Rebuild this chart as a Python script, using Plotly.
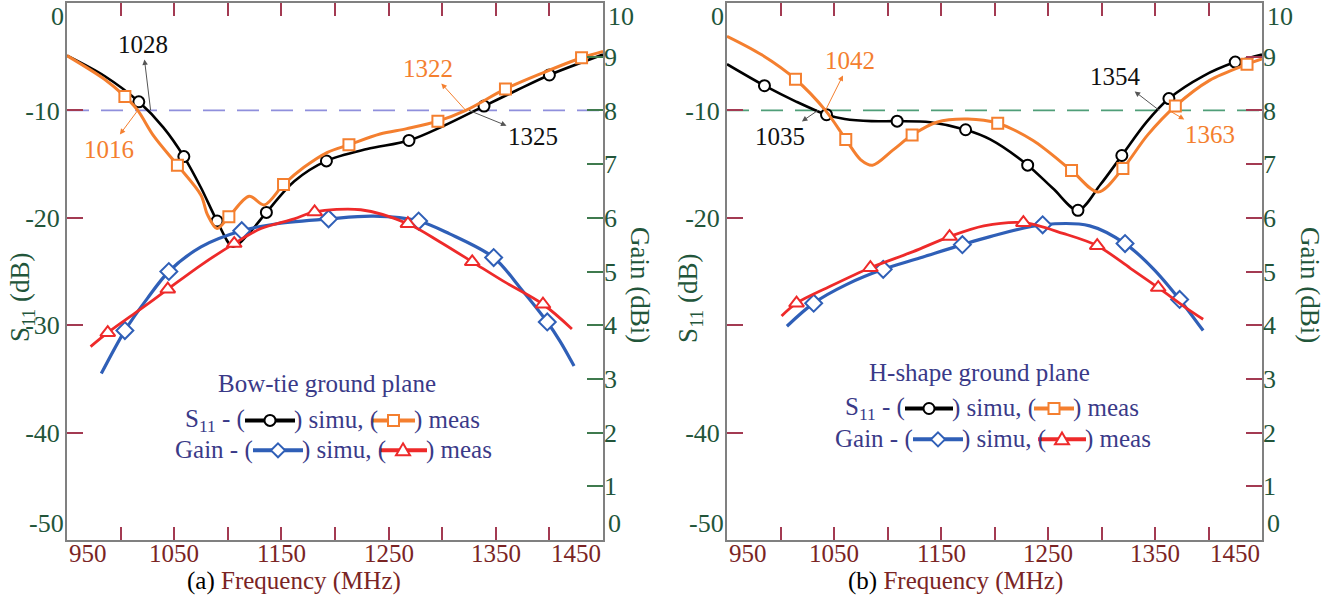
import plotly.graph_objects as go

# ------------------------------------------------------------------ data
X_RANGE = [950, 1450]
S11_RANGE = [-50, 0]
GAIN_RANGE = [0, 10]
X_TICKS = [950, 1000, 1050, 1100, 1150, 1200, 1250, 1300, 1350, 1400, 1450]
X_TICK_LABELS = ["950", "", "1050", "", "1150", "", "1250", "", "1350", "", "1450"]
S11_TICKS = [-50, -40, -30, -20, -10, 0]
S11_TICK_LABELS = ["-50", "-40", "-30", "-20", "-10", "0"]
# in panel (b) the -30 label is hidden behind the axis title
S11_TICK_LABELS_B = ["-50", "-40", "", "-20", "-10", "0"]
GAIN_TICKS = [0, 1, 2, 3, 4, 5, 6, 7, 8, 9, 10]
GAIN_TICK_LABELS = ["0", "1", "2", "3", "4", "5", "6", "7", "8", "9", "10"]
THRESH = -10

# (a) Bow-tie ground plane
A_S11_SIM_F = [950, 985, 1017, 1040, 1059, 1075, 1090, 1105, 1121, 1136, 1162, 1192, 1230, 1269, 1300, 1339, 1370, 1400, 1450]
A_S11_SIM_V = [-4.9, -6.8, -9.2, -11.6, -14.3, -17.2, -20.3, -22.7, -21.3, -19.5, -16.6, -14.7, -13.6, -12.8, -11.5, -9.6, -8.1, -6.7, -4.8]
A_S11_SIM_MK = [1017, 1059, 1090, 1136, 1192, 1269, 1339, 1400]

A_S11_MEAS_F = [950, 985, 1004, 1016, 1031, 1053, 1075, 1081, 1090, 1101, 1120, 1134, 1152, 1171, 1193, 1213, 1242, 1267, 1296, 1322, 1359, 1394, 1430, 1450]
A_S11_MEAS_V = [-4.9, -7.1, -8.7, -10.0, -12.4, -15.1, -17.9, -19.7, -21.0, -19.9, -18.0, -18.8, -16.9, -15.3, -13.9, -13.2, -12.2, -11.7, -11.0, -10.0, -8.0, -6.5, -5.1, -4.5]
A_S11_MEAS_MK = [1004, 1053, 1101, 1152, 1213, 1296, 1359, 1430]

A_GAIN_SIM_F = [982, 1004, 1025, 1045, 1075, 1113, 1146, 1194, 1236, 1278, 1307, 1348, 1373, 1398, 1410, 1423]
A_GAIN_SIM_V = [3.1, 3.9, 4.5, 5.0, 5.46, 5.76, 5.89, 5.98, 6.03, 5.94, 5.70, 5.26, 4.69, 4.06, 3.7, 3.24]
A_GAIN_SIM_MK = [1004, 1045, 1113, 1194, 1278, 1348, 1398]

A_GAIN_MEAS_F = [972, 988, 1016, 1044, 1075, 1106, 1131, 1162, 1181, 1224, 1268, 1298, 1328, 1357, 1394, 1421]
A_GAIN_MEAS_V = [3.6, 3.86, 4.26, 4.67, 5.12, 5.52, 5.8, 5.98, 6.11, 6.15, 5.89, 5.55, 5.18, 4.82, 4.39, 3.93]
A_GAIN_MEAS_MK = [988, 1044, 1106, 1181, 1268, 1328, 1394]

A_MARK_F = [1028, 1016, 1322, 1325]
A_MARK_KIND = ["simu", "meas", "meas", "simu"]

# (b) H-shape ground plane
B_S11_SIM_F = [950, 985, 1015, 1043, 1060, 1085, 1109, 1140, 1173, 1196, 1231, 1255, 1278, 1299, 1319, 1342, 1363, 1395, 1425, 1450]
B_S11_SIM_V = [-5.7, -7.7, -9.2, -10.4, -10.8, -11.0, -11.0, -11.1, -11.8, -12.7, -15.1, -17.3, -19.3, -16.9, -14.2, -11.1, -8.9, -6.8, -5.5, -4.8]
B_S11_SIM_MK = [985, 1043, 1109, 1173, 1231, 1278, 1319, 1363, 1425]

B_S11_MEAS_F = [950, 982, 1014, 1042, 1061, 1075, 1086, 1105, 1123, 1146, 1175, 1203, 1236, 1272, 1297, 1320, 1343, 1369, 1401, 1436, 1450]
B_S11_MEAS_V = [-3.1, -4.8, -7.1, -10.0, -12.7, -14.6, -15.1, -13.7, -12.3, -11.1, -10.8, -11.2, -12.8, -15.6, -17.6, -15.4, -12.3, -9.6, -7.2, -5.7, -5.2]
B_S11_MEAS_MK = [1014, 1061, 1123, 1203, 1272, 1320, 1369, 1436]

B_GAIN_SIM_F = [1006, 1031, 1062, 1096, 1130, 1170, 1196, 1245, 1289, 1322, 1348, 1373, 1395]
B_GAIN_SIM_V = [3.98, 4.41, 4.76, 5.04, 5.25, 5.50, 5.65, 5.87, 5.85, 5.52, 5.06, 4.48, 3.9]
B_GAIN_SIM_MK = [1031, 1096, 1170, 1245, 1322, 1373]

B_GAIN_MEAS_F = [1001, 1015, 1046, 1084, 1124, 1158, 1190, 1227, 1264, 1296, 1327, 1353, 1380, 1395]
B_GAIN_MEAS_V = [4.17, 4.41, 4.72, 5.07, 5.37, 5.65, 5.85, 5.91, 5.71, 5.48, 5.06, 4.70, 4.31, 4.11]
B_GAIN_MEAS_MK = [1015, 1084, 1158, 1227, 1296, 1353]

B_MARK_F = [1035, 1042, 1354, 1363]
B_MARK_KIND = ["simu", "meas", "simu", "meas"]

# ------------------------------------------------------------------ style
SERIF = "Liberation Serif, Times New Roman, serif"
C_SIM_S = "#000000"
C_MEAS_S = "#f47f2f"
C_SIM_G = "#2f5fb7"
C_MEAS_G = "#ee2a2a"
C_FRAME = "#808080"
C_MAROON = "#7a2424"
C_TICK_RED = "#a33a52"
C_GREEN = "#22553a"
C_GREEN_TICK = "#3f7a4e"
C_LEGEND = "#3a3a88"

W_PX, H_PX = 1330, 598
ML, MR, MT, MB = 67, 68, 1, 58
PW, PH = W_PX - ML - MR, H_PX - MT - MB


def px(x):
    return (x - ML) / PW


def py(y):
    return 1 - (y - MT) / PH


LEFT_DOM = [0, px(603)]
RIGHT_DOM = [px(727), 1]

fig = go.Figure()


def add_series(f, v, mk, xa, ya, color, width, symbol, size):
    op = [1 if fi in mk else 0 for fi in f]
    fig.add_trace(go.Scatter(
        x=f, y=v, mode="lines+markers", xaxis=xa, yaxis=ya,
        line=dict(color=color, width=width, shape="spline", smoothing=0.9),
        marker=dict(symbol=symbol, size=size, color="white", opacity=op,
                    line=dict(color=color, width=2)),
        showlegend=False, hoverinfo="x+y"))


add_series(A_S11_SIM_F, A_S11_SIM_V, A_S11_SIM_MK, "x", "y", C_SIM_S, 2.6, "circle", 11)
add_series(A_S11_MEAS_F, A_S11_MEAS_V, A_S11_MEAS_MK, "x", "y", C_MEAS_S, 3, "square", 11)
add_series(A_GAIN_SIM_F, A_GAIN_SIM_V, A_GAIN_SIM_MK, "x", "y2", C_SIM_G, 3.2, "diamond", 13)
add_series(A_GAIN_MEAS_F, A_GAIN_MEAS_V, A_GAIN_MEAS_MK, "x", "y2", C_MEAS_G, 2.8, "triangle-up", 13)

add_series(B_S11_SIM_F, B_S11_SIM_V, B_S11_SIM_MK, "x2", "y3", C_SIM_S, 2.6, "circle", 11)
add_series(B_S11_MEAS_F, B_S11_MEAS_V, B_S11_MEAS_MK, "x2", "y3", C_MEAS_S, 3, "square", 11)
add_series(B_GAIN_SIM_F, B_GAIN_SIM_V, B_GAIN_SIM_MK, "x2", "y4", C_SIM_G, 3.2, "diamond", 13)
add_series(B_GAIN_MEAS_F, B_GAIN_MEAS_V, B_GAIN_MEAS_MK, "x2", "y4", C_MEAS_G, 2.8, "triangle-up", 13)

tickfont_x = dict(family=SERIF, size=25, color=C_MAROON)
tickfont_y = dict(family=SERIF, size=26, color=C_GREEN)


def xaxis(dom, anchor):
    # tick marks from the axis; their labels are placed as annotations below
    return dict(domain=dom, anchor=anchor, range=X_RANGE, showgrid=False, zeroline=False,
                showline=True, linecolor=C_FRAME, linewidth=2, mirror="ticks",
                ticks="inside", ticklen=13, tickwidth=1.5, tickcolor=C_TICK_RED,
                tickvals=X_TICKS[1:-1], showticklabels=False)


def yaxis_s(anchor, labels):
    return dict(anchor=anchor, range=S11_RANGE, showgrid=False, zeroline=False,
                showline=True, linecolor=C_FRAME, linewidth=2, mirror=True,
                ticks="inside", ticklen=16, tickwidth=1.5, tickcolor=C_TICK_RED,
                tickvals=S11_TICKS[1:-1], ticktext=labels[1:-1], tickfont=tickfont_y)


def yaxis_g(anchor, over, tcol):
    return dict(anchor=anchor, overlaying=over, side="right", range=GAIN_RANGE,
                showgrid=False, zeroline=False, showline=False,
                ticks="inside", ticklen=16, tickwidth=1.5, tickcolor=tcol,
                tickvals=GAIN_TICKS[1:-1], ticktext=GAIN_TICK_LABELS[1:-1], tickfont=tickfont_y)


fig.update_layout(
    width=W_PX, height=H_PX, margin=dict(l=ML, r=MR, t=MT, b=MB),
    paper_bgcolor="white", plot_bgcolor="white", showlegend=False,
    xaxis=xaxis(LEFT_DOM, "y"),
    yaxis=yaxis_s("x", S11_TICK_LABELS),
    yaxis2=yaxis_g("x", "y", C_GREEN_TICK),
    xaxis2=xaxis(RIGHT_DOM, "y3"),
    yaxis3=yaxis_s("x2", S11_TICK_LABELS_B),
    yaxis4=yaxis_g("x2", "y3", C_TICK_RED),
)

shapes = []
annos = []

# threshold dashed lines
for xr, yr, col in [("x", "y", "#8f8fdc"), ("x2", "y3", "#4f9e78")]:
    shapes.append(dict(type="line", xref=xr, yref=yr, x0=X_RANGE[0], x1=X_RANGE[1],
                       y0=THRESH, y1=THRESH, line=dict(color=col, width=1.8, dash="22px,12px"),
                       layer="below"))

# x tick labels + edge y tick labels
for xr, yr, yr2, labs in [("x", "y", "y2", S11_TICK_LABELS), ("x2", "y3", "y4", S11_TICK_LABELS_B)]:
    dom = xr + " domain"
    n = len(X_TICKS)
    for i, (tv, tl) in enumerate(zip(X_TICKS, X_TICK_LABELS)):
        if not tl:
            continue
        anc = "left" if i == 0 else ("right" if i == n - 1 else "center")
        annos.append(dict(text=tl, xref=xr, x=tv, yref=yr + " domain", y=0,
                          xanchor=anc, yanchor="top", yshift=2, showarrow=False, font=tickfont_x))
    annos.append(dict(text=labs[-1], xref=dom, x=0, yref=yr, y=S11_TICKS[-1],
                      xanchor="right", yanchor="top", xshift=-1, yshift=3, showarrow=False, font=tickfont_y))
    annos.append(dict(text=labs[0], xref=dom, x=0, yref=yr, y=S11_TICKS[0],
                      xanchor="right", yanchor="bottom", xshift=-1, showarrow=False, font=tickfont_y))
    annos.append(dict(text=GAIN_TICK_LABELS[-1], xref=dom, x=1, yref=yr2, y=GAIN_TICKS[-1],
                      xanchor="left", yanchor="top", xshift=3, yshift=3, showarrow=False, font=tickfont_y))
    annos.append(dict(text=GAIN_TICK_LABELS[0], xref=dom, x=1, yref=yr2, y=GAIN_TICKS[0],
                      xanchor="left", yanchor="bottom", xshift=3, showarrow=False, font=tickfont_y))

# axis titles
title_font = dict(family=SERIF, size=27, color=C_GREEN)
for xp_, ang, txt_ in [(22, -90, "S<sub>11</sub> (dB)"), (690, -90, "S<sub>11</sub> (dB)"),
                       (640, 90, "Gain (dBi)"), (1310, 90, "Gain (dBi)")]:
    yy = 297 if "S" in txt_ else 284
    annos.append(dict(text=txt_, xref="paper", yref="paper", x=px(xp_), y=py(yy), textangle=ang,
                      showarrow=False, font=title_font, xanchor="center", yanchor="middle"))

for cx, lab in [(294, "(a)"), (955, "(b)")]:
    annos.append(dict(text=f"<span style='color:black'>{lab}</span> Frequency (MHz)",
                      xref="paper", yref="paper", x=px(cx), y=0, yshift=-(581 - 540),
                      showarrow=False, font=dict(family=SERIF, size=25, color=C_MAROON),
                      xanchor="center", yanchor="middle"))

# -10 dB crossing labels: text offset (dx, dy) in px from the crossing point, arrow head at the text
LAB_FONT = 25
A_OFFS = {1028: (-8, -66), 1016: (-29, 39), 1322: (-38, -42), 1325: (64, 26)}
B_OFFS = {1042: (25, -50), 1035: (-38, 26), 1354: (-44, -34), 1363: (41, 24)}
for xr, yr, marks, kinds, offs in [("x", "y", A_MARK_F, A_MARK_KIND, A_OFFS),
                                   ("x2", "y3", B_MARK_F, B_MARK_KIND, B_OFFS)]:
    for fval, kind in zip(marks, kinds):
        tcol = "#111111" if kind == "simu" else C_MEAS_S
        acol = "#555555" if kind == "simu" else C_MEAS_S
        ax, ay = offs[fval]
        annos.append(dict(text=str(fval), xref=xr, yref=yr, x=fval, y=THRESH, ax=ax, ay=ay,
                          showarrow=True, arrowside="start", arrowhead=2, startarrowhead=2,
                          startarrowsize=1.1, arrowwidth=1, arrowcolor=acol,
                          font=dict(family=SERIF, size=LAB_FONT, color=tcol)))

# legend blocks (drawn in pixel positions)
LEG_FONT = dict(family=SERIF, size=25, color=C_LEGEND)


def txt(s, x, y, anchor):
    annos.append(dict(text=s, xref="paper", yref="paper", x=px(x), y=py(y), xanchor=anchor,
                      yanchor="middle", showarrow=False, font=LEG_FONT))


def sample(x0, x1, y, color, sym):
    shapes.append(dict(type="line", xref="paper", yref="paper", x0=px(x0), x1=px(x1),
                       y0=py(y), y1=py(y), line=dict(color=color, width=4)))
    cx = (x0 + x1) / 2
    r = 5.5
    base = dict(xref="paper", yref="paper", fillcolor="white", line=dict(color=color, width=2))
    if sym == "circle":
        shapes.append(dict(type="circle", x0=px(cx - r), x1=px(cx + r), y0=py(y - r), y1=py(y + r), **base))
    elif sym == "square":
        shapes.append(dict(type="rect", x0=px(cx - r), x1=px(cx + r), y0=py(y - r), y1=py(y + r), **base))
    elif sym == "diamond":
        r = 7
        p = f"M {px(cx)},{py(y - r)} L {px(cx + r)},{py(y)} L {px(cx)},{py(y + r)} L {px(cx - r)},{py(y)} Z"
        shapes.append(dict(type="path", path=p, **base))
    else:
        r = 7
        p = f"M {px(cx)},{py(y - r)} L {px(cx + r)},{py(y + r * 0.7)} L {px(cx - r)},{py(y + r * 0.7)} Z"
        shapes.append(dict(type="path", path=p, **base))


def legend(title, tx, ty, y1, y2, s1, s2, g1, g2):
    txt(title, tx, ty, "center")
    txt("S<sub>11</sub> - (", s1[0] + 2, y1, "right")
    sample(s1[0], s1[1], y1, C_SIM_S, "circle")
    txt(") simu, (", s1[1] - 3, y1, "left")
    sample(s2[0], s2[1], y1, C_MEAS_S, "square")
    txt(") meas", s2[1] - 3, y1, "left")
    txt("Gain - (", g1[0] + 2, y2, "right")
    sample(g1[0], g1[1], y2, C_SIM_G, "diamond")
    txt(") simu, (", g1[1] - 3, y2, "left")
    sample(g2[0], g2[1], y2, C_MEAS_G, "triangle")
    txt(") meas", g2[1] - 3, y2, "left")


legend("Bow-tie ground plane", 327, 383, 420, 450,
       (245, 295), (372, 415), (253, 303), (379, 427))
legend("H-shape ground plane", 979, 372, 408, 439,
       (905, 953), (1034, 1074), (913, 963), (1038, 1086))

fig.update_layout(shapes=shapes, annotations=annos)
fig.write_html("out.html")
